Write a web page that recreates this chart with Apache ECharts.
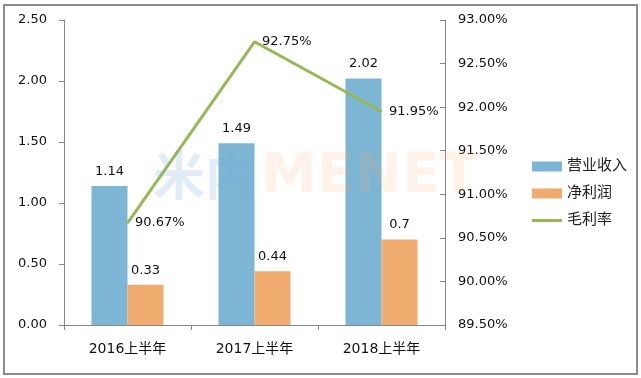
<!DOCTYPE html>
<html>
<head>
<meta charset="utf-8">
<script src="https://cdn.jsdelivr.net/npm/echarts@6/dist/echarts.min.js"></script>
<style>
    html, body { margin: 0; padding: 0; background: #fff; }
    #chart {
        position: absolute; left: 3px; top: 4px;
        width: 631px; height: 367px;
        border: 2px solid #8c8c8c;
    }
</style>
</head>
<body>
<div id="chart"></div>
<script>
// 数据
const categories = ['2016上半年', '2017上半年', '2018上半年'];
const revenue = [1.14, 1.49, 2.02];     // 营业收入
const netProfit = [0.33, 0.44, 0.7];    // 净利润
const grossMargin = [90.67, 92.75, 91.95]; // 毛利率 %
const leftTicks = { min: 0, max: 2.5, interval: 0.5 };
const rightTicks = { min: 89.5, max: 93, interval: 0.5 };

const font = 'Verdana, "DejaVu Sans", "Noto Sans CJK SC", sans-serif';
const chart = echarts.init(document.getElementById('chart'));

const option = {
    animation: false,
    textStyle: { fontFamily: font },
    grid: { left: 59, right: 191, top: 14, bottom: 48 },
    legend: {
        orient: 'vertical',
        left: 522,
        top: 148,
        itemWidth: 30,
        itemHeight: 10,
        itemGap: 12,
        textStyle: { fontSize: 15, color: '#222', fontFamily: font },
        data: [
            { name: '营业收入', icon: 'rect' },
            { name: '净利润', icon: 'rect' },
            { name: '毛利率', icon: 'path://M0,4 L30,4 L30,7 L0,7 Z' }
        ]
    },
    graphic: [
        {
            type: 'text', left: 148, top: 143, z: 100,
            style: { text: '米内', fill: 'rgba(120,170,215,0.22)', font: 'bold 52px "Noto Sans CJK SC"' }
        },
        {
            type: 'text', left: 256, top: 143, z: 100,
            style: { text: 'MENET', fill: 'rgba(245,170,110,0.15)', font: 'bold 56px "DejaVu Sans"' }
        }
    ],
    xAxis: {
        type: 'category',
        data: categories,
        axisLine: { lineStyle: { color: '#888' } },
        axisTick: { show: true, length: 5, lineStyle: { color: '#888' } },
        axisLabel: { color: '#111', fontSize: 14, margin: 17 }
    },
    yAxis: [
        {
            type: 'value',
            min: leftTicks.min, max: leftTicks.max, interval: leftTicks.interval,
            axisLine: { show: true, lineStyle: { color: '#888' } },
            axisTick: { show: true, length: 5, lineStyle: { color: '#888' } },
            splitLine: { show: false },
            axisLabel: { color: '#111', fontSize: 13, margin: 17, formatter: v => v.toFixed(2) }
        },
        {
            type: 'value',
            min: rightTicks.min, max: rightTicks.max, interval: rightTicks.interval,
            axisLine: { show: true, lineStyle: { color: '#888' } },
            axisTick: { show: true, length: 5, inside: true, lineStyle: { color: '#888' } },
            splitLine: { show: false },
            axisLabel: { color: '#111', fontSize: 13, margin: 13, formatter: v => v.toFixed(2) + '%' }
        }
    ],
    series: [
        {
            name: '营业收入',
            type: 'bar',
            data: revenue,
            barWidth: 36,
            barGap: '0%',
            itemStyle: { color: '#7cb6d4' },
            label: { show: true, position: 'top', distance: 8, color: '#111', fontSize: 13 }
        },
        {
            name: '净利润',
            type: 'bar',
            data: netProfit,
            barWidth: 36,
            itemStyle: { color: '#f0ab6e' },
            label: { show: true, position: 'top', distance: 8, color: '#111', fontSize: 13 }
        },
        {
            name: '毛利率',
            type: 'line',
            yAxisIndex: 1,
            data: grossMargin,
            symbol: 'circle',
            symbolSize: 1,
            showSymbol: true,
            lineStyle: { color: '#96b954', width: 3 },
            itemStyle: { color: '#96b954' },
            label: {
                show: true, position: 'right', distance: 7,
                color: '#111', fontSize: 13,
                formatter: p => p.value.toFixed(2) + '%'
            }
        }
    ]
};

chart.setOption(option);
</script>
</body>
</html>
